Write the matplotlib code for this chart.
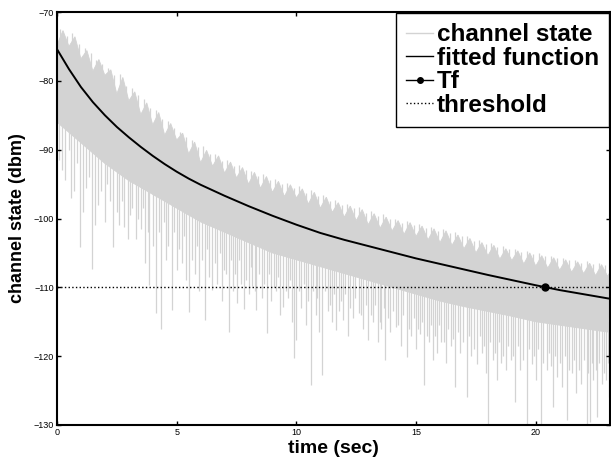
import numpy as np
import matplotlib
matplotlib.use("Agg")
import matplotlib.pyplot as plt
from matplotlib.lines import Line2D

plt.rcParams['font.family'] = ['Liberation Sans', 'DejaVu Sans']

# fitted curve
fit_t = [0, 0.5, 1, 1.5, 2, 2.5, 3, 3.5, 4, 4.5, 5, 5.5, 6, 7, 8, 9, 10, 11,
         12, 13, 14, 15, 16, 17, 18, 19, 20, 21, 22, 23, 23.3]
fit_v = [-75.4, -78.3, -80.9, -83.1, -85.0, -86.7, -88.2, -89.6, -90.9,
         -92.1, -93.2, -94.2, -95.1, -96.7, -98.2, -99.6, -100.9, -102.1,
         -103.1, -104.0, -104.9, -105.8, -106.6, -107.4, -108.2, -108.95,
         -109.7, -110.4, -111.0, -111.6, -111.75]

# channel state: upper jagged edge (every 0.25 s)
top_t = [i * 0.25 for i in range(94)]
top_v = [-74.8, -72.7, -75.0, -73.6, -76.8, -75.6, -78.6, -76.9, -79.2, -78.4,
         -81.9, -79.5, -82.9, -81.6, -84.9, -83.2, -86.4, -84.6, -87.9, -86.2,
         -88.6, -87.6, -90.6, -88.9, -91.9, -90.1, -92.4, -90.9, -93.4, -91.8,
         -94.1, -92.6, -95.0, -93.3, -95.6, -93.9, -96.2, -94.6, -96.8, -95.1,
         -97.0, -95.7, -97.9, -96.2, -98.5, -96.9, -99.1, -97.7, -99.8, -98.2,
         -100.3, -98.7, -100.9, -99.3, -101.4, -99.8, -101.8, -100.3, -102.3,
         -100.6, -102.6, -101.1, -103.1, -101.5, -103.5, -101.8, -103.9, -102.4,
         -104.4, -102.9, -105.0, -103.5, -105.4, -103.9, -105.9, -104.4, -106.1,
         -104.7, -106.6, -105.0, -106.9, -105.4, -107.2, -105.7, -107.5, -106.0,
         -107.8, -106.3, -108.0, -106.5, -108.3, -106.7, -108.4, -106.9]

# single upward samples poking above the edge
peak_t = [0.12, 0.4, 0.62, 0.9, 1.15, 1.4, 1.62, 1.9, 2.15, 2.4, 2.62, 2.9,
          3.12, 3.38, 3.62, 3.9, 4.15, 4.38, 4.62, 4.9, 5.12, 5.38, 5.62, 5.9,
          6.1, 6.4, 6.62, 6.9, 7.12, 7.4, 7.62, 7.9, 8.12, 8.4, 8.62, 8.9,
          9.1, 9.4, 9.62, 9.9, 10.12, 10.4, 10.62, 10.9, 11.12, 11.4, 11.62,
          11.9, 12.12, 12.4, 12.62, 12.9, 13.12, 13.4, 13.62, 13.9, 14.12,
          14.4, 14.62, 14.9, 15.12, 15.4, 15.62, 15.9, 16.12, 16.4, 16.62,
          16.9, 17.12, 17.4, 17.62, 17.9, 18.12, 18.4, 18.62, 18.9, 19.12,
          19.4, 19.62, 19.9, 20.12, 20.4, 20.62, 20.9, 21.12, 21.4, 21.62,
          21.9, 22.12, 22.4, 22.62, 22.9, 23.08]
peak_v = [-72.4, -73.5, -73.0, -74.6, -75.2, -76.0, -77.0, -77.6, -78.2, -79.2,
          -79.0, -80.8, -81.0, -82.0, -82.6, -83.9, -84.2, -85.5, -85.8, -86.8,
          -87.4, -88.2, -88.6, -89.6, -89.4, -90.6, -90.6, -91.6, -91.5, -92.4,
          -92.3, -93.0, -93.1, -93.8, -93.5, -94.4, -94.2, -95.0, -94.9, -95.6,
          -95.3, -96.3, -95.9, -96.8, -96.6, -97.4, -97.3, -98.1, -97.9, -98.5,
          -98.3, -99.2, -98.9, -99.6, -99.4, -100.1, -100.0, -100.6, -100.3,
          -100.9, -100.8, -101.4, -101.2, -101.8, -101.5, -102.1, -102.0,
          -102.6, -102.5, -103.2, -103.1, -103.7, -103.5, -104.2, -104.0,
          -104.5, -104.4, -104.9, -104.7, -105.2, -105.0, -105.5, -105.4,
          -105.8, -105.7, -106.1, -106.0, -106.4, -106.2, -106.6, -106.4,
          -106.8, -106.6]

# lower edge of the dense part of the signal
band_t = list(range(24))
band_v = [-86, -89, -92, -94.5, -96.5, -98.5, -100.5, -102, -103.5, -105,
          -106, -107, -108, -109, -110, -111, -112, -112.8, -113.5, -114.2,
          -115, -115.5, -116, -116.5]

# downward fades (time, lowest level)
spike_t = [0.10, 0.33, 0.50, 0.70, 0.96, 1.20, 1.47, 1.70, 2.00, 2.20, 2.36,
           2.60, 2.80, 3.05, 3.30, 3.50, 3.66, 3.86, 4.00, 4.13, 4.35, 4.55,
           4.79, 5.00, 5.21, 5.40, 5.53, 5.75, 5.95, 6.17, 6.35, 6.49, 6.70,
           6.90, 7.05, 7.18, 7.35, 7.52, 7.68, 7.82, 8.00, 8.15, 8.33, 8.55,
           8.78, 8.95, 9.15, 9.30, 9.44, 9.65, 9.80, 9.91, 9.99, 10.20, 10.40,
           10.62, 10.80, 10.95, 11.09, 11.30, 11.50, 11.65, 11.80, 11.95,
           12.15, 12.35, 12.61, 12.80, 12.98, 13.20, 13.40, 13.55, 13.72,
           13.90, 14.16, 14.35, 14.60, 14.80, 15.00, 15.15, 15.34, 15.55,
           15.70, 15.86, 16.05, 16.25, 16.45, 16.64, 16.85, 17.11, 17.30,
           17.55, 17.75, 17.90, 18.02, 18.20, 18.36, 18.55, 18.75, 18.95,
           19.14, 19.35, 19.62, 19.84, 20.00, 20.21, 20.45, 20.72, 20.90,
           21.10, 21.31, 21.50, 21.68, 21.90, 22.12, 22.25, 22.40, 22.57,
           22.75, 22.94, 23.05,
           0.2, 0.6, 0.85, 1.1, 1.35, 1.6, 1.85, 2.1, 2.5, 2.7, 2.95, 3.15,
           3.4, 3.6, 3.8, 4.25, 4.45, 4.65, 4.9, 5.1, 5.3, 5.65, 5.85, 6.05,
           6.25, 6.6, 6.8, 6.97, 7.25, 7.45, 7.6, 7.9, 8.1, 8.25, 8.45, 8.65,
           8.85, 9.05, 9.22, 9.55, 9.72, 10.1, 10.3, 10.5, 10.7, 10.88, 11.2,
           11.4, 11.58, 11.88, 12.05, 12.25, 12.45, 12.7, 12.9, 13.1, 13.3,
           13.48, 13.65, 13.82, 14.05, 14.25, 14.45, 14.7, 14.9, 15.08, 15.25,
           15.45, 15.62, 15.78, 15.95, 16.15, 16.35, 16.55, 16.75, 16.95,
           17.2, 17.4, 17.65, 17.82, 18.1, 18.28, 18.45, 18.65, 18.85, 19.05,
           19.25, 19.45, 19.72, 19.92, 20.1, 20.3, 20.55, 20.65, 20.82, 21.0,
           21.2, 21.4, 21.6, 21.8, 22.0, 22.18, 22.33, 22.5, 22.65, 22.85, 23.0]
spike_v = [-91.5, -94.4, -90.0, -96.0, -104.1, -95.5, -107.3, -98.0, -100.5,
           -97.5, -104.1, -101.0, -101.2, -99.5, -103.0, -101.5, -106.5,
           -109.7, -104.0, -113.8, -116.0, -106.0, -113.3, -107.5, -106.5,
           -109.0, -113.6, -108.0, -110.5, -114.8, -108.5, -110.4, -109.5,
           -112.0, -108.0, -116.5, -110.5, -112.3, -109.5, -113.1, -111.0,
           -109.8, -113.3, -111.5, -116.7, -112.0, -110.5, -114.0, -112.8,
           -111.5, -115.0, -120.3, -117.7, -113.0, -115.5, -124.2, -114.0,
           -116.5, -122.8, -113.5, -115.0, -116.2, -113.5, -114.8, -117.0,
           -114.5, -113.8, -116.0, -117.7, -115.0, -118.0, -116.0, -120.6,
           -116.5, -115.7, -118.5, -120.1, -117.0, -119.0, -116.8, -124.2,
           -118.0, -120.5, -119.6, -118.0, -121.0, -118.5, -124.5, -119.5,
           -125.9, -120.0, -121.1, -119.5, -122.5, -130.0, -120.5, -123.5,
           -121.0, -122.0, -120.5, -126.6, -122.0, -130.0, -121.1, -123.5,
           -130.0, -122.0, -127.4, -123.0, -124.5, -129.3, -122.5, -125.4,
           -124.0, -130.0, -129.5, -123.5, -128.8, -124.0, -123.5, -126.0,
           -93, -97, -92, -99, -94, -101, -96, -95, -99, -97.5, -103, -98.5,
           -100, -98.5, -102, -102, -100.5, -104, -102, -104.5, -102.5, -106,
           -104, -106, -104.5, -106.5, -105, -107.5, -106, -108, -106, -109,
           -107, -110.5, -108, -109.5, -108, -110, -108.5, -110.5, -109,
           -110.5, -109.5, -112, -110.5, -111.5, -110.5, -112.5, -111, -112,
           -111, -113, -111.5, -114, -112.5, -114, -112.5, -115, -113, -114.5,
           -113.5, -115.5, -114, -116, -114.5, -116, -115, -117, -115.5, -117,
           -115.5, -118, -116, -117.5, -116.5, -118, -117, -119, -117, -118.5,
           -118, -119.5, -118, -120, -118.5, -120, -118.5, -120.5, -119, -120,
           -119, -121, -119.5, -121.5, -120, -121, -120, -122, -120.5, -122,
           -120.5, -122.5, -121, -122, -121, -122.5, -121]

tf_t = [20.38]
tf_v = [-110]
threshold = -110

gray = '#d3d3d3'

fig = plt.figure(figsize=(6.11, 4.59), dpi=100)
ax = fig.add_axes([57 / 611, 34 / 459, 553 / 611, 413 / 459])

# channel state
ax.fill(np.concatenate([top_t, band_t[::-1]]),
        np.concatenate([top_v, band_v[::-1]]),
        color=gray, lw=0.6, zorder=1)
peak_v = np.array(peak_v)
ax.vlines(peak_t, peak_v - 3, peak_v, color=gray, lw=0.9, zorder=1)
spike_top = np.interp(spike_t, band_t, band_v) + 1.5
ax.vlines(spike_t, spike_v, spike_top, color=gray, lw=0.9, zorder=1)

ax.axhline(threshold, color='black', ls=':', lw=1.0, zorder=2)
ax.plot(fit_t, fit_v, color='black', lw=1.4, zorder=3)
ax.plot(tf_t, tf_v, 'o', color='black', ms=5, zorder=4)

ax.set_xlim(0, 23.1)
ax.set_ylim(-130, -70)
ax.set_xticks([0, 5, 10, 15, 20])
ax.set_yticks([-130, -120, -110, -100, -90, -80, -70])
ax.tick_params(direction='in', top=True, right=True, length=3, width=1,
               labelsize=6.5, pad=2)
for s in ax.spines.values():
    s.set_linewidth(1.5)

ax.set_xlabel('time (sec)', fontsize=14, fontweight='bold', labelpad=2)
ax.set_ylabel('channel state (dbm)', fontsize=13, fontweight='bold', labelpad=6)

handles = [Line2D([], [], color=gray, lw=1),
           Line2D([], [], color='black', lw=1),
           Line2D([], [], color='black', lw=1, marker='o', ms=4),
           Line2D([], [], color='black', lw=1, ls=':')]
labels = ['channel state', 'fitted function', 'Tf', 'threshold']
leg = fig.legend(handles, labels, loc='upper left',
                 bbox_to_anchor=(396 / 611, 1 - 13 / 459),
                 prop={'weight': 'bold', 'size': 17.5}, frameon=True,
                 fancybox=False, edgecolor='black', framealpha=1,
                 borderpad=0.42, labelspacing=0.02, handlelength=1.1,
                 handletextpad=0.15, borderaxespad=0)
leg.get_frame().set_linewidth(1.0)

fig.savefig('out.png', dpi=100)
